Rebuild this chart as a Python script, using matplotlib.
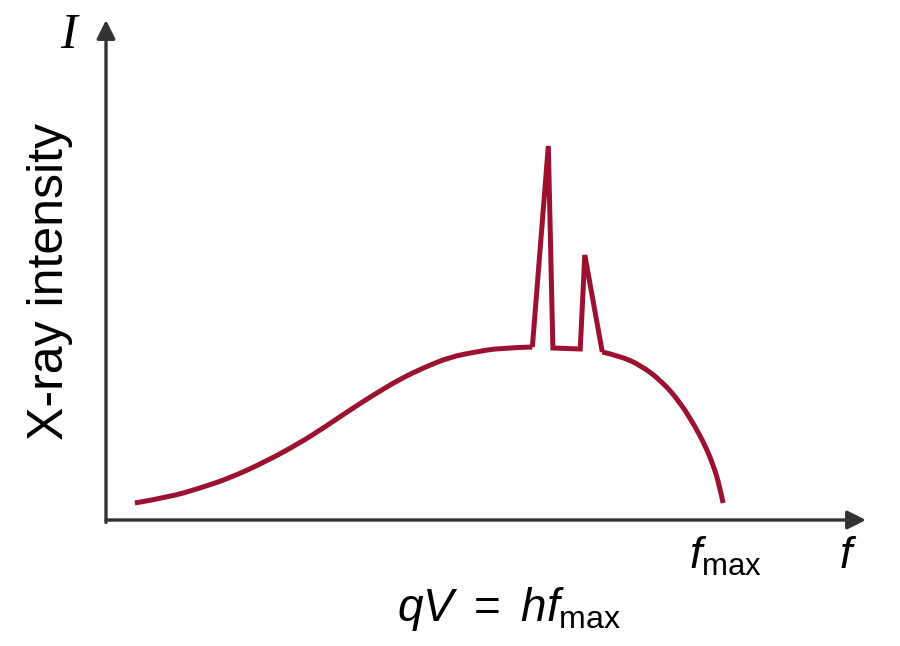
import matplotlib
matplotlib.use("Agg")
import matplotlib.pyplot as plt
from matplotlib.path import Path
from matplotlib.patches import PathPatch

plt.rcParams['mathtext.fontset'] = 'custom'
plt.rcParams['mathtext.rm'] = 'Liberation Sans'
plt.rcParams['mathtext.it'] = 'Liberation Sans:italic'

# continuous spectrum (arbitrary units), rising part
rise_f = [0.38, 0.84, 1.24, 1.63, 2.09, 2.55, 2.88, 3.21, 3.54, 3.87, 4.20,
          4.53, 4.86, 5.18, 5.61]
rise_i = [0.34, 0.46, 0.64, 0.84, 1.16, 1.54, 1.86, 2.20, 2.52, 2.82, 3.06,
          3.26, 3.36, 3.44, 3.46]
# the two characteristic lines
peak_f = [5.61, 5.82, 5.88, 6.24, 6.30, 6.53]
peak_i = [3.46, 7.48, 3.44, 3.42, 5.30, 3.36]
# falling part down to f_max
fall_f = [6.53, 6.76, 7.03, 7.31, 7.55, 7.74, 7.88, 7.99, 8.07, 8.12]
fall_i = [3.36, 3.28, 3.10, 2.78, 2.36, 1.90, 1.50, 1.10, 0.70, 0.34]

W, H = 900, 646
red = '#9c1130'
axis_col = '#333333'


def smooth_path(xs, ys):
    pts = list(zip(xs, ys))
    verts = [pts[0]]
    codes = [Path.MOVETO]
    for k in range(1, len(pts) - 1):
        if k < len(pts) - 2:
            end = ((pts[k][0] + pts[k + 1][0]) / 2, (pts[k][1] + pts[k + 1][1]) / 2)
        else:
            end = pts[k + 1]
        verts += [pts[k], end]
        codes += [Path.CURVE3, Path.CURVE3]
    return Path(verts, codes)


fig = plt.figure(figsize=(9, 6.46), dpi=100)
ax = fig.add_axes([106 / W, 1 - 520 / H, (866 - 106) / W, (520 - 20) / H])
ax.set_xlim(0, 10)
ax.set_ylim(0, 10)
ax.axis('off')

arrow = dict(arrowstyle='-|>', lw=2.4, color=axis_col, mutation_scale=28,
             shrinkA=0, shrinkB=0)
ax.annotate('', xy=(10, 0), xytext=(0, 0), arrowprops=arrow, annotation_clip=False)
ax.annotate('', xy=(0, 10), xytext=(0, -0.05), arrowprops=arrow, annotation_clip=False)

lw = 3.6
for xs, ys in [(rise_f, rise_i), (fall_f, fall_i)]:
    ax.add_patch(PathPatch(smooth_path(xs, ys), fill=False, edgecolor=red,
                           lw=lw, capstyle='butt', joinstyle='round'))
ax.plot(peak_f, peak_i, color=red, lw=lw, solid_joinstyle='miter',
        solid_capstyle='butt')

fig.text(69 / W, 1 - 36 / H, 'I', family='Liberation Serif', style='italic',
         fontsize=36, ha='center', va='center')
fig.text(50 / W, 1 - 282 / H, 'X-ray intensity', family='Liberation Sans',
         fontsize=36, rotation=90, ha='center', va='center')
fig.text(848 / W, 1 - 556 / H, r'$f$', fontsize=32, ha='center', va='center')
fig.text(725 / W, 1 - 556 / H, r'$f_{\mathrm{max}}$', fontsize=32,
         ha='center', va='center')
fig.text(509 / W, 1 - 609 / H, r'$qV\ =\ hf_{\mathrm{max}}$', fontsize=33,
         ha='center', va='center')

fig.savefig('out.png', dpi=100, facecolor='white')
